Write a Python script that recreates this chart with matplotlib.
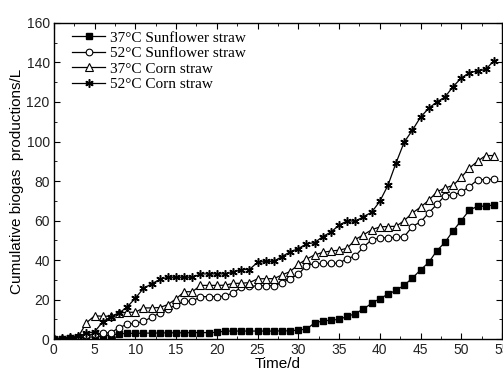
import matplotlib
matplotlib.use("Agg")
import matplotlib.pyplot as plt
import numpy as np

# fermentation time (days)
days = list(range(0, 55))

# cumulative biogas (L) for each run
sunflower_37 = [0, 0.2, 0.4, 0.6, 0.9, 1.2, 1.6, 2.0, 2.7, 2.9,
                3.0, 3.0, 3.1, 3.1, 3.2, 3.2, 3.2, 3.3, 3.3, 3.3,
                3.4, 4.1, 4.1, 4.1, 4.1, 4.1, 4.1, 4.1, 4.2, 4.2,
                4.6, 5.1, 8.2, 9.2, 9.6, 10.0, 11.5, 12.9, 15.3, 18.1,
                20.5, 22.7, 24.7, 27.3, 30.9, 35.0, 38.8, 44.7, 49.0, 54.8,
                60.0, 65.3, 67.2, 67.3, 67.9]
sunflower_52 = [0, 0.3, 0.6, 1.0, 2.0, 2.4, 3.0, 3.3, 5.7, 7.6,
                8.0, 9.0, 11.1, 13.2, 15.3, 17.3, 19.2, 19.2, 21.5, 21.5,
                21.5, 21.7, 23.5, 26.2, 26.7, 27.0, 27.0, 27.0, 28.5, 30.6,
                32.8, 37.2, 38.2, 38.3, 38.4, 38.4, 40.8, 42.1, 46.6, 50.3,
                51.2, 51.3, 51.5, 51.8, 57.0, 59.3, 63.8, 68.2, 72.6, 73.0,
                74.3, 77.2, 80.6, 80.7, 80.9]
corn_37 = [0, 0.3, 0.6, 1.2, 8.3, 11.8, 11.6, 11.6, 13.2, 13.6,
           13.6, 15.8, 15.8, 16.0, 17.5, 20.4, 24.0, 24.0, 27.2, 27.2,
           27.2, 27.3, 28.2, 28.3, 28.6, 30.5, 30.6, 30.6, 32.5, 34.2,
           37.8, 40.5, 42.6, 43.9, 44.6, 45.0, 46.0, 50.4, 52.8, 55.3,
           56.8, 57.0, 57.1, 60.0, 63.8, 66.8, 70.2, 74.5, 76.5, 77.8,
           81.9, 86.6, 90.0, 92.9, 92.9]
corn_52 = [0, 0.5, 0.9, 1.5, 2.9, 3.7, 8.8, 11.3, 13.2, 16.3,
           20.7, 25.7, 28.0, 30.2, 31.3, 31.3, 31.3, 31.3, 33.0, 33.0,
           33.0, 33.0, 33.9, 35.2, 35.2, 38.9, 39.3, 39.4, 41.8, 44.2,
           45.8, 48.2, 48.8, 51.9, 54.2, 57.6, 59.9, 59.6, 62.0, 64.2,
           69.7, 77.8, 89.2, 99.7, 105.7, 112.3, 116.8, 120.0, 122.5, 127.8,
           132.1, 134.9, 135.7, 136.5, 140.8]

labels = ["37°C Sunflower straw", "52°C Sunflower straw",
          "37°C Corn straw", "52°C Corn straw"]

plt.rcParams['font.family'] = ['Liberation Sans', 'DejaVu Sans']

fig = plt.figure(figsize=(5.03, 3.76), dpi=100)
ax = fig.add_axes([0.107, 0.098, 0.891, 0.841])

ax.plot(days, sunflower_37, color='black', lw=0.9, marker='s', ms=4.2,
        mfc='black', mec='black', label=labels[0])
ax.plot(days, sunflower_52, color='black', lw=0.9, marker='o', ms=4.8,
        mfc='white', mec='black', mew=0.8, label=labels[1])
ax.plot(days, corn_37, color='black', lw=0.9, marker='^', ms=5.3,
        mfc='white', mec='black', mew=0.8, label=labels[2])
ax.plot(days, corn_52, color='black', lw=0.9, marker=(6, 2, 0), ms=6,
        mfc='black', mec='black', mew=1.1, label=labels[3])

ax.set_xlim(0, 55)
ax.set_ylim(0, 160)
ax.set_xticks(np.arange(0, 56, 5))
ax.set_xticks(np.arange(0, 56, 2.5), minor=True)
ax.set_yticks(np.arange(0, 161, 20))
ax.set_yticks(np.arange(0, 161, 10), minor=True)
ax.tick_params(which='both', direction='in', top=True, right=True,
               labelsize=10, pad=3, labelcolor='#222222')
ax.tick_params(which='major', length=4)
ax.tick_params(which='minor', length=2.5)
for s in ax.spines.values():
    s.set_linewidth(1.0)

ax.set_xlabel("Time/d", fontsize=11, labelpad=0)
ax.set_ylabel("Cumulative biogas  productions/L", fontsize=11, labelpad=2)

# legend sits a little in from the corner, no frame
ax.legend(loc='upper left', bbox_to_anchor=(0.013, 1.013), frameon=False,
          handlelength=2.2, handletextpad=0.3, labelspacing=0.12,
          borderaxespad=0.4,
          prop={'family': 'Liberation Serif', 'size': 11})

fig.savefig("out.png", dpi=100)
